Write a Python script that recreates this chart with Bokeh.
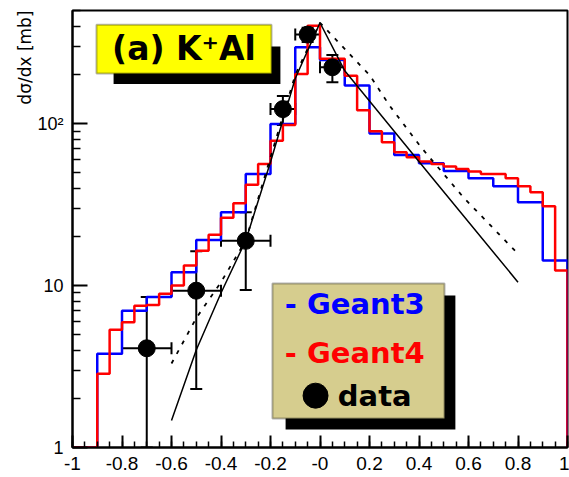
import numpy as np
from bokeh.plotting import figure
from bokeh.models import (Range1d, BoxAnnotation, Label, Whisker, ColumnDataSource,
                          FixedTicker, TeeHead, Title)
from bokeh.embed import file_html
from bokeh.resources import INLINE

# ---------------- data ----------------
# Geant3 (blue) histogram, 0.1 wide bins
g3_edges = [-1.0, -0.9, -0.8, -0.7, -0.6, -0.5, -0.4, -0.3, -0.2, -0.1, 0.0,
            0.1, 0.2, 0.3, 0.4, 0.5, 0.6, 0.7, 0.8, 0.9, 1.0]
g3_values = [0, 3.8, 7.0, 8.5, 12.1, 19.1, 28.4, 48.9, 99.6, 296,
             247, 172, 87, 64, 57, 51, 46, 41, 32.7, 14.3]

# Geant4 (red) histogram, 0.05 wide bins
g4_edges = [-1.0, -0.95, -0.9, -0.85, -0.8, -0.75, -0.7, -0.65, -0.6, -0.55, -0.5,
            -0.45, -0.4, -0.35, -0.3, -0.25, -0.2, -0.15, -0.1, -0.05, 0.0,
            0.05, 0.1, 0.15, 0.2, 0.25, 0.3, 0.35, 0.4, 0.45, 0.5,
            0.55, 0.6, 0.65, 0.7, 0.75, 0.8, 0.85, 0.9, 0.95, 1.0]
g4_values = [0, 0, 2.85, 5.33, 5.94, 7.5, 7.6, 8.9, 10.0, 13.3,
             16.4, 20.6, 26.2, 32.2, 42, 56.4, 78.5, 98, 203, 403,
             252, 252, 198, 121, 89.7, 76.7, 66.5, 62, 58.3, 56.4,
             54.3, 52.5, 50.6, 48.9, 48.9, 46, 41, 37.7, 30.9, 12.4]

# data points
data_x = [-0.7, -0.5, -0.3, -0.15, -0.05, 0.05]
data_y = [4.1, 9.3, 18.9, 123, 355, 223]
data_xerr = [0.1, 0.1, 0.1, 0.05, 0.05, 0.05]
data_yerr = [4.4, 7.0, 9.5, 25, 36, 43]

# model curves
solid_x = [-0.6, -0.5, -0.4, -0.3, -0.2, -0.1, 0.0, 0.1, 0.45, 0.8]
solid_y = [1.47, 4.0, 9.0, 19, 58, 190, 420, 212, 47, 10.5]
dashed_x = [-0.6, -0.5, -0.4, -0.3, -0.2, -0.1, 0.0, 0.15, 0.2, 0.28, 0.41, 0.58, 0.8]
dashed_y = [3.3, 6.3, 10.5, 19, 62, 200, 420, 240, 200, 130, 71, 35, 15.7]

x_ticks = [-1, -0.8, -0.6, -0.4, -0.2, 0, 0.2, 0.4, 0.6, 0.8, 1]
x_tick_labels = ["-1", "-0.8", "-0.6", "-0.4", "-0.2", "-0", "0.2", "0.4", "0.6", "0.8", "1"]
y_ticks = [1, 10, 100]
y_tick_labels = ["1", "10", "10\u00b2"]

legend_labels = ["- Geant3", "- Geant4", "data"]
title_text = "(a) K\u207aAl"
y_title = "d\u03c3/dx [mb]"

X_MIN, X_MAX = -1.0, 1.0
Y_MIN, Y_MAX = 1.0, 500.0

# ---------------- figure ----------------
p = figure(width=569, height=477, output_backend="svg", toolbar_location=None,
           x_range=Range1d(X_MIN, X_MAX), y_range=Range1d(Y_MIN, Y_MAX),
           y_axis_type="log", min_border_left=72, min_border_right=2,
           min_border_top=10, min_border_bottom=30)
p.background_fill_color = "white"
p.border_fill_color = "white"
p.outline_line_color = "black"
p.outline_line_width = 2
p.xgrid.visible = False
p.ygrid.visible = False

# pale strip along the left edge of the picture
p.add_layout(BoxAnnotation(left=0, right=10, top=0, bottom=477,
                           left_units="canvas", right_units="canvas",
                           top_units="canvas", bottom_units="canvas",
                           fill_color="#FAFCE6", fill_alpha=1, line_alpha=0,
                           level="underlay"))


def hist_path(edges, values, floor):
    e = np.asarray(edges, float)
    v = np.clip(np.asarray(values, float), floor, None)
    xs = np.concatenate([[e[0]], np.repeat(e, 2)[1:-1], [e[-1]]])
    ys = np.concatenate([[floor], np.repeat(v, 2), [floor]])
    return xs, ys


bx, by = hist_path(g3_edges, g3_values, Y_MIN)
rx, ry = hist_path(g4_edges, g4_values, Y_MIN)
p.line(bx, by, line_color="#0000FF", line_width=2.5)
p.line(rx, ry, line_color="#FF0000", line_width=2.5)

p.line(solid_x, solid_y, line_color="black", line_width=1.5)
p.line(dashed_x, dashed_y, line_color="black", line_width=1.8, line_dash="4 7")

# data points with error bars
dx = np.asarray(data_x, float)
dy = np.asarray(data_y, float)
dxe = np.asarray(data_xerr, float)
dye = np.asarray(data_yerr, float)
src = ColumnDataSource(dict(x=dx, y=dy, xlo=dx - dxe, xhi=dx + dxe,
                            ylo=np.maximum(dy - dye, Y_MIN), yhi=dy + dye))
p.scatter("x", "y", source=src, size=17, color="black")
p.add_layout(Whisker(source=src, base="x", lower="ylo", upper="yhi", dimension="height",
                     line_width=2, line_color="black",
                     upper_head=TeeHead(size=12, line_width=2, line_color="black"),
                     lower_head=TeeHead(size=12, line_width=2, line_color="black")))
p.add_layout(Whisker(source=src, base="y", lower="xlo", upper="xhi", dimension="width",
                     line_width=2, line_color="black",
                     upper_head=TeeHead(size=12, line_width=2, line_color="black"),
                     lower_head=TeeHead(size=12, line_width=2, line_color="black")))

# ---------------- axes ----------------
p.xaxis.ticker = FixedTicker(ticks=x_ticks,
                             minor_ticks=[round(-1 + 0.05 * i, 2) for i in range(41)])
p.xaxis.major_label_overrides = dict(zip(x_ticks, x_tick_labels))
y_minor = [m * d for d in (1, 10, 100) for m in range(2, 10) if m * d <= Y_MAX]
p.yaxis.ticker = FixedTicker(ticks=y_ticks, minor_ticks=y_minor)
p.yaxis.major_label_overrides = dict(zip(y_ticks, y_tick_labels))

for ax, (maj, mnr, fs) in ((p.xaxis, (12, 6, "19px")), (p.yaxis, (15, 8, "18px"))):
    ax.axis_line_width = 2
    ax.axis_line_color = "black"
    ax.major_tick_in = maj
    ax.major_tick_out = 0
    ax.minor_tick_in = mnr
    ax.minor_tick_out = 0
    ax.major_tick_line_width = 2
    ax.minor_tick_line_width = 1.5
    ax.major_label_text_font = "Liberation Sans"
    ax.major_label_text_font_size = fs
    ax.major_label_text_color = "black"
    ax.major_label_standoff = 9

# y-axis title at upper left
p.add_layout(Title(text=y_title, align="right", text_font="DejaVu Sans",
                   text_font_size="17px", text_font_style="normal",
                   text_color="black", standoff=0, offset=0), "left")

# ---------------- title box ----------------
p.add_layout(BoxAnnotation(left=-0.834, right=-0.160, top=300, bottom=176,
                           fill_color="black", fill_alpha=1, line_alpha=0))
p.add_layout(BoxAnnotation(left=-0.903, right=-0.196, top=408, bottom=204,
                           fill_color="#FFFF00", fill_alpha=1,
                           line_color="black", line_width=2))
p.add_layout(Label(x=-0.840, y=290, text=title_text, text_align="left",
                   text_baseline="middle", text_font="DejaVu Sans",
                   text_font_style="bold", text_font_size="33px", text_color="black"))

# ---------------- legend box ----------------
p.add_layout(BoxAnnotation(left=-0.139, right=0.547, top=8.67, bottom=1.29,
                           fill_color="black", fill_alpha=1, line_alpha=0))
p.add_layout(BoxAnnotation(left=-0.192, right=0.503, top=10.3, bottom=1.51,
                           fill_color="#D6CD8E", fill_alpha=1,
                           line_color="black", line_width=2))
legend_colors = ["#0000FF", "#FF0000", "black"]
legend_x = [-0.142, -0.142, 0.072]
legend_y = [7.74, 3.86, 2.09]
for t, c, lx, ly in zip(legend_labels, legend_colors, legend_x, legend_y):
    p.add_layout(Label(x=lx, y=ly, text=t, text_align="left", text_baseline="middle",
                       text_font="DejaVu Sans", text_font_style="bold",
                       text_font_size="29px", text_color=c))
dot = p.scatter([-0.018], [2.09], size=25, color="black")
dot.level = "overlay"

open("out.html", "w").write(file_html(p, INLINE))
